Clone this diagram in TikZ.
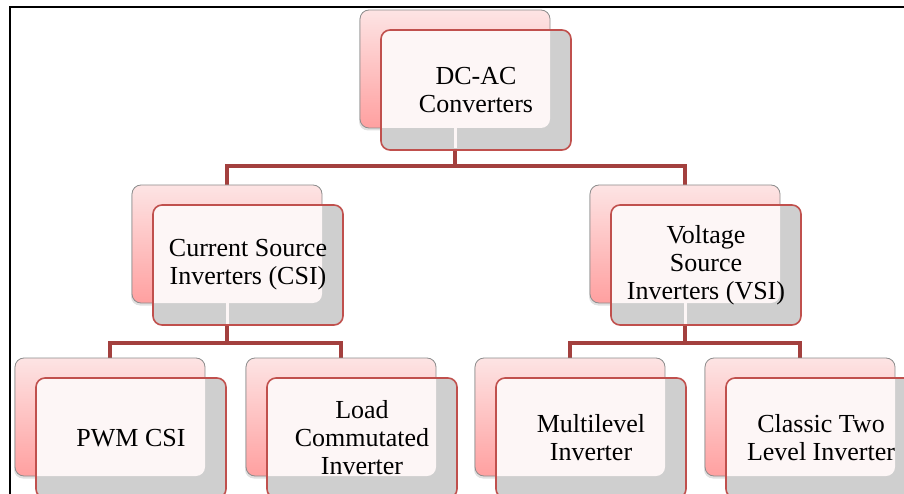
\documentclass[tikz,border=0pt]{standalone}
\usepackage{fontspec}
\setmainfont{Liberation Serif}
\usetikzlibrary{shadows,calc}
\pgfdeclarelayer{background}
\pgfsetlayers{background,main}
\definecolor{pinktop}{HTML}{FDE4E4}
\definecolor{pinkbot}{HTML}{FFA0A0}
\definecolor{bordergrey}{HTML}{8C8C8C}
\definecolor{frontlight}{HTML}{FDF6F6}
\definecolor{frontgrey}{HTML}{CFCFCF}
\definecolor{frontred}{HTML}{C0504D}
\definecolor{connred}{HTML}{A3403E}
\tikzset{
  backbox/.style={draw=bordergrey, line width=0.8pt, rounded corners=9pt,
    minimum width=190pt, minimum height=118pt, anchor=north west,
    inner sep=0pt, outer sep=0pt, top color=pinktop, bottom color=pinkbot,
    drop shadow={shadow xshift=-1pt, shadow yshift=-2.5pt, fill=black, opacity=0.12}},
  frontshape/.style={fill=frontgrey, rounded corners=9pt,
    minimum width=190pt, minimum height=120pt, anchor=north west,
    inner sep=0pt, outer sep=0pt},
  frontborder/.style={draw=frontred, line width=1.6pt, rounded corners=9pt},
  boxtext/.style={align=center, inner sep=0pt, font=\fontsize{26}{28}\selectfont},
  conn/.style={draw=connred, line width=4.5pt},
  lightline/.style={draw=frontlight, line width=3pt},
}
\newcommand\pairbox[4]{%
  \node[backbox] (#1b) at (#2,#3) {};
  \node[frontshape] (#1f) at (#2+21,#3+20) {};
  \begin{scope}
    \clip[rounded corners=9pt] (#1f.north west) rectangle (#1f.south east);
    \fill[frontlight, rounded corners=9pt] (#1b.north west) rectangle (#1b.south east);
  \end{scope}
  \draw[frontborder] (#1f.north west) rectangle (#1f.south east);
  \node[boxtext] (#1t) at (#1f.center) {#4};
}
\begin{document}
\begin{tikzpicture}[x=1pt,y=-1pt]
\path[use as bounding box, clip] (0,0) rectangle (904,494);
\draw[line width=2pt] (9.5,494) -- (9.5,7.5) -- (904,7.5);

\coordinate (bar1) at (0,166);
\coordinate (bar2) at (0,343);

\pairbox{root}{360}{10}{DC-AC\\Converters}
\draw[lightline] (rootb.south) -- ($(rootb.south |- rootf.south)+(0,-1.5)$);
\pairbox{csi}{132}{185}{Current Source\\Inverters (CSI)}
\draw[lightline] (csib.south) -- ($(csib.south |- csif.south)+(0,-1.5)$);
\pairbox{vsi}{590}{185}{Voltage\\Source\\Inverters (VSI)}
\draw[lightline] (vsib.south) -- ($(vsib.south |- vsif.south)+(0,-1.5)$);
\pairbox{pwm}{15}{358}{PWM CSI}
\pairbox{lci}{246}{358}{Load\\Commutated\\Inverter}
\pairbox{mli}{475}{358}{Multilevel\\Inverter}
\pairbox{ctl}{705}{358}{Classic Two\\Level Inverter}

\begin{pgfonlayer}{background}
\draw[conn] (rootb.south) -- (rootb.south |- bar1) -| (csib.north);
\draw[conn] (rootb.south |- bar1) -| (vsib.north);
\draw[conn] (csib.south) -- (csib.south |- bar2) -| (pwmb.north);
\draw[conn] (csib.south |- bar2) -| (lcib.north);
\draw[conn] (vsib.south) -- (vsib.south |- bar2) -| (mlib.north);
\draw[conn] (vsib.south |- bar2) -| (ctlb.north);
\end{pgfonlayer}
\end{tikzpicture}
\end{document}
